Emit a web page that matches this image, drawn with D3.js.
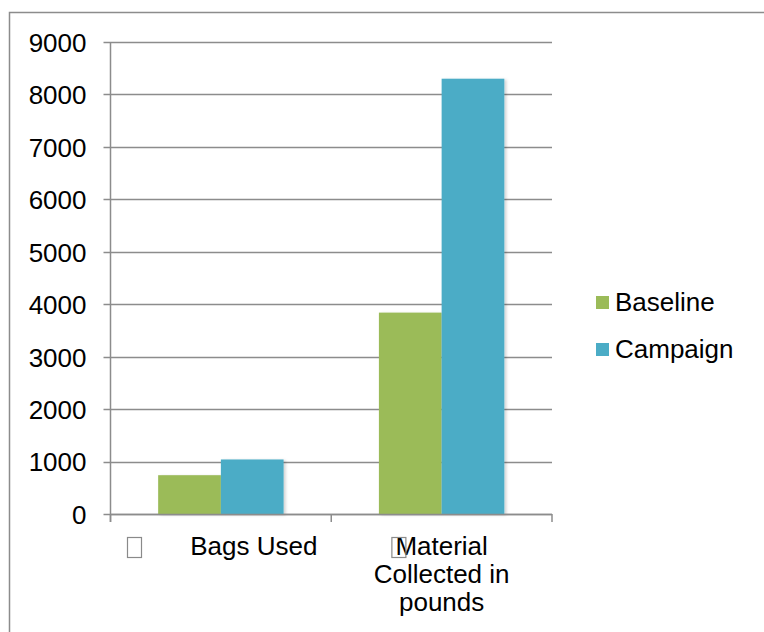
<!DOCTYPE html>
<html>
<head>
<meta charset="utf-8">
<script src="https://cdn.jsdelivr.net/npm/d3@7"></script>
<style>
  html, body { margin: 0; padding: 0; background: #fff; }
  svg { display: block; }
  text { font-family: "Liberation Sans", Arial, sans-serif; fill: #000; }
</style>
</head>
<body>
<svg id="chart" width="764" height="632"></svg>
<script>
// Data
const categories = ["Bags Used", "Material Collected in pounds"];
const categoryLines = [["Bags Used"], ["Material", "Collected in", "pounds"]];
const seriesNames = ["Baseline", "Campaign"];
const baselineValues = [740, 3840];
const campaignValues = [1040, 8300];
const yTicks = [0, 1000, 2000, 3000, 4000, 5000, 6000, 7000, 8000, 9000];
const seriesColors = ["#9BBB59", "#4BACC6"];

const rows = categories.map((c, i) => ({
  category: c,
  values: [
    { series: seriesNames[0], value: baselineValues[i] },
    { series: seriesNames[1], value: campaignValues[i] }
  ]
}));

const svg = d3.select("#chart");
const gridColor = "#8c8c8c";
const fontSize = 26;

// outer frame
svg.append("rect")
  .attr("x", 9.5).attr("y", 12.5)
  .attr("width", 800).attr("height", 700)
  .attr("fill", "none").attr("stroke", gridColor).attr("stroke-width", 1.5);

// soft shadow for bars
const defs = svg.append("defs");
const f = defs.append("filter").attr("id", "barShadow")
  .attr("x", "-10%").attr("y", "-10%").attr("width", "130%").attr("height", "130%");
f.append("feDropShadow").attr("dx", 2).attr("dy", 1).attr("stdDeviation", 1.5)
  .attr("flood-color", "#000").attr("flood-opacity", 0.18);

const plot = { left: 110.5, right: 552, top: 42, bottom: 514 };

const y = d3.scaleLinear().domain([0, 9000]).range([plot.bottom, plot.top]);
const x0 = d3.scaleBand().domain(categories).range([plot.left, plot.right]).paddingInner(0).paddingOuter(0);
const x1 = d3.scaleBand().domain(seriesNames).range([0, x0.bandwidth()]).paddingInner(0).paddingOuter(0.76);
const color = d3.scaleOrdinal().domain(seriesNames).range(seriesColors);

// horizontal gridlines
svg.append("g").selectAll("line").data(yTicks).join("line")
  .attr("x1", plot.left - 7).attr("x2", plot.right)
  .attr("y1", d => Math.round(y(d)) + 0.5).attr("y2", d => Math.round(y(d)) + 0.5)
  .attr("stroke", gridColor).attr("stroke-width", 1.5);

// y axis labels
const yAxis = d3.axisLeft(y).tickValues(yTicks).tickSize(0).tickPadding(24).tickFormat(d3.format("d"));
const yg = svg.append("g").attr("transform", `translate(${plot.left},0)`).call(yAxis);
yg.select(".domain").remove();
yg.selectAll("text")
  .attr("font-family", "'Liberation Sans', Arial, sans-serif")
  .attr("font-size", fontSize).attr("fill", "#000").attr("dy", "0.36em");

// bars
const groups = svg.append("g").selectAll("g").data(rows).join("g")
  .attr("transform", d => `translate(${x0(d.category)},0)`);
groups.selectAll("rect").data(d => d.values).join("rect")
  .attr("x", d => x1(d.series))
  .attr("y", d => y(d.value))
  .attr("width", x1.bandwidth())
  .attr("height", d => y(0) - y(d.value))
  .attr("fill", d => color(d.series))
  .attr("filter", "url(#barShadow)");

// y axis line
svg.append("line")
  .attr("x1", plot.left).attr("x2", plot.left)
  .attr("y1", plot.top).attr("y2", plot.bottom + 8)
  .attr("stroke", gridColor).attr("stroke-width", 1.5);

// x axis line and category ticks
svg.append("line")
  .attr("x1", plot.left).attr("x2", plot.right)
  .attr("y1", plot.bottom + 0.5).attr("y2", plot.bottom + 0.5)
  .attr("stroke", gridColor).attr("stroke-width", 1.5);
const tickXs = categories.map(c => x0(c)).concat([plot.right]);
svg.append("g").selectAll("line").data(tickXs).join("line")
  .attr("x1", d => d).attr("x2", d => d)
  .attr("y1", plot.bottom).attr("y2", plot.bottom + 8)
  .attr("stroke", gridColor).attr("stroke-width", 1.5);

// category labels, each preceded by an empty bullet box
const lineHeight = 28;
categories.forEach((c, i) => {
  const cx = x0(c) + x0.bandwidth() / 2;
  const lines = categoryLines[i];
  const t = svg.append("text")
    .attr("text-anchor", "middle")
    .attr("font-size", fontSize);
  lines.forEach((ln, j) => {
    t.append("tspan").attr("x", i === 0 ? cx + 33 : cx).attr("y", 555 + j * lineHeight).text(ln);
  });
  const firstLen = t.select("tspan").node().getComputedTextLength();
  const textLeft = (i === 0 ? cx + 33 : cx) - firstLen / 2;
  const boxX = i === 0 ? x0(c) + 16.5 : textLeft - 4;
  svg.append("rect")
    .attr("x", boxX + 0.5).attr("y", 537.5)
    .attr("width", 14).attr("height", 20)
    .attr("fill", "none").attr("stroke", "#8a8a8a").attr("stroke-width", 1.2);
});

// legend
const legend = svg.append("g").selectAll("g").data(seriesNames).join("g")
  .attr("transform", (d, i) => `translate(596, ${296 + i * 47})`);
legend.append("rect").attr("width", 13).attr("height", 13).attr("fill", d => color(d));
legend.append("text").attr("x", 19).attr("y", 14.5).attr("font-size", fontSize).text(d => d);
</script>
</body>
</html>
